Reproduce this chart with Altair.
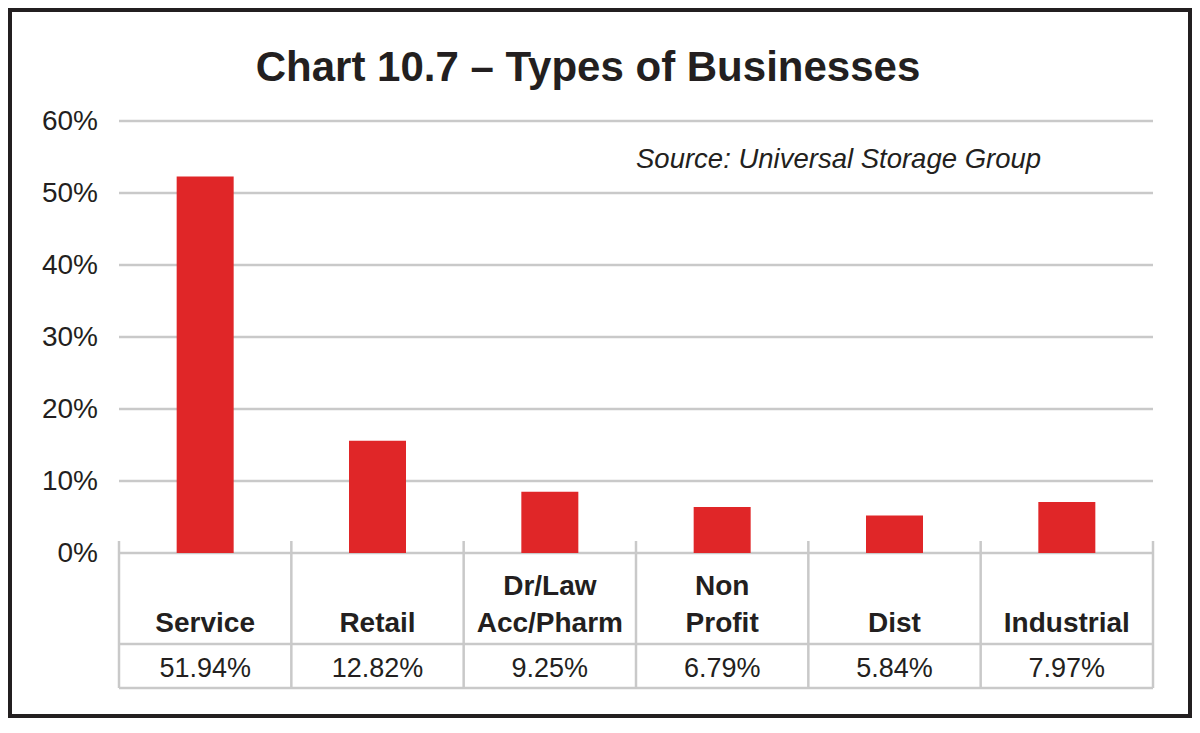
import altair as alt
import pandas as pd

# ---- data ----
label_line1 = ["", "", "Dr/Law", "Non", "", ""]
label_line2 = ["Service", "Retail", "Acc/Pharm", "Profit", "Dist", "Industrial"]
bar_values = [52.3, 15.6, 8.5, 6.4, 5.2, 7.1]
table_values = ["51.94%", "12.82%", "9.25%", "6.79%", "5.84%", "7.97%"]
y_ticks = [0, 10, 20, 30, 40, 50, 60]
y_tick_labels = ["0%", "10%", "20%", "30%", "40%", "50%", "60%"]
title_text = "Chart 10.7 – Types of Businesses"
source_text = "Source: Universal Storage Group"

n = len(label_line2)
df = pd.DataFrame({
    "pos": [i + 0.5 for i in range(n)],
    "l1": label_line1,
    "l2": label_line2,
    "v": bar_values,
    "t": table_values,
})
ticks = pd.DataFrame({"y": y_ticks, "lab": y_tick_labels})
seps = pd.DataFrame({"s": list(range(n + 1))})
one = pd.DataFrame({"k": [0]})

TXT = "#231f20"
GRID = "#c9c9c9"
RED = "#e02628"
FONT = "Liberation Sans, Arial, sans-serif"

xs = alt.Scale(domain=[0, n], range=[109, 1143], nice=False, zero=False, padding=0)
ys = alt.Scale(domain=[0, 60], range=[543, 111], nice=False, zero=False, padding=0)

X = lambda f: alt.X(f, scale=xs, axis=None)
Y = lambda f: alt.Y(f, scale=ys, axis=None)

grid = alt.Chart(ticks).mark_rule(color=GRID, strokeWidth=2.5).encode(
    y=Y("y:Q"), x=alt.value(109), x2=alt.value(1143)
)
ylab = alt.Chart(ticks).mark_text(
    align="right", baseline="middle", font=FONT, fontSize=28, color=TXT, dy=1
).encode(y=Y("y:Q"), x=alt.value(88), text="lab:N")

bars = alt.Chart(df).mark_bar(size=57, color=RED).encode(
    x=X("pos:Q"), y=Y("v:Q"), y2=alt.datum(0)
)

row_line = alt.Chart(one).mark_rule(color=GRID, strokeWidth=2.5).encode(
    x=alt.value(109), x2=alt.value(1143), y=alt.value(634)
)
bot_line = alt.Chart(one).mark_rule(color=GRID, strokeWidth=2.5).encode(
    x=alt.value(109), x2=alt.value(1143), y=alt.value(678)
)
vsep = alt.Chart(seps).mark_rule(color=GRID, strokeWidth=2.5).encode(
    x=X("s:Q"), y=alt.value(531), y2=alt.value(678)
)

cat1 = alt.Chart(df).mark_text(
    align="center", baseline="alphabetic", font=FONT, fontSize=28,
    fontWeight="bold", color=TXT
).encode(x=X("pos:Q"), y=alt.value(585), text="l1:N")
cat2 = alt.Chart(df).mark_text(
    align="center", baseline="alphabetic", font=FONT, fontSize=28,
    fontWeight="bold", color=TXT
).encode(x=X("pos:Q"), y=alt.value(622), text="l2:N")
vals = alt.Chart(df).mark_text(
    align="center", baseline="alphabetic", font=FONT, fontSize=27, color=TXT
).encode(x=X("pos:Q"), y=alt.value(667), text="t:N")

title = alt.Chart(one).mark_text(
    align="center", baseline="alphabetic", font=FONT, fontSize=42,
    fontWeight="bold", color=TXT
).encode(x=alt.value(578), y=alt.value(71), text=alt.value(title_text))
source = alt.Chart(one).mark_text(
    align="left", baseline="alphabetic", font=FONT, fontSize=27.5,
    fontStyle="italic", color=TXT
).encode(x=alt.value(626), y=alt.value(158), text=alt.value(source_text))

chart = alt.layer(
    grid, bot_line, row_line, vsep, bars, ylab, cat1, cat2, vals, title, source
).properties(
    width=1180, height=706, autosize="none",
    padding={"left": 2, "top": 2, "right": 2, "bottom": 2},
).configure_view(stroke="#231f20", strokeWidth=4, fill="white")

chart.save("out.html", embed_options={"renderer": "svg", "actions": False})
